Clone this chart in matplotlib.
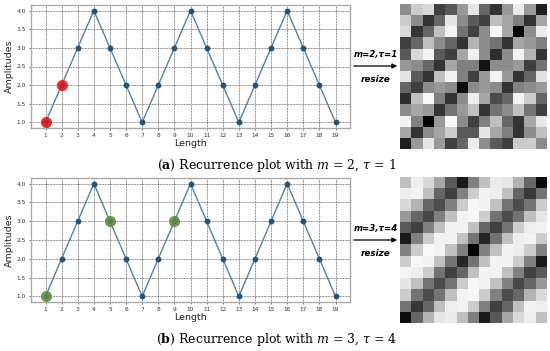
import numpy as np
import matplotlib
matplotlib.use("Agg")
import matplotlib.pyplot as plt

plt.rcParams["mathtext.fontset"] = "dejavuserif"

# ---- data ----
length = list(range(1, 20))
amplitudes = [1, 2, 3, 4, 3, 2, 1, 2, 3, 4, 3, 2, 1, 2, 3, 4, 3, 2, 1]
highlight_a = [1, 2]          # m=2, tau=1
highlight_b = [1, 5, 9]       # m=3, tau=4

rp_a = [
    [0.55, 0.80, 0.85, 0.25, 0.35, 0.60, 0.90, 0.40, 0.20, 0.60, 0.92, 0.60, 0.12],
    [0.80, 0.55, 0.20, 0.40, 0.90, 0.55, 0.35, 0.25, 0.75, 0.65, 0.50, 0.20, 0.65],
    [0.85, 0.20, 0.40, 0.75, 0.95, 0.45, 0.25, 0.55, 0.97, 0.65, 0.02, 0.55, 0.92],
    [0.25, 0.40, 0.75, 0.55, 0.40, 0.20, 0.70, 0.55, 0.45, 0.20, 0.65, 0.60, 0.50],
    [0.35, 0.85, 0.95, 0.35, 0.25, 0.65, 0.93, 0.55, 0.18, 0.55, 0.95, 0.70, 0.20],
    [0.60, 0.55, 0.40, 0.20, 0.65, 0.50, 0.50, 0.08, 0.55, 0.55, 0.60, 0.25, 0.45],
    [0.90, 0.35, 0.20, 0.75, 0.95, 0.50, 0.25, 0.60, 0.95, 0.60, 0.20, 0.40, 0.88],
    [0.40, 0.25, 0.55, 0.60, 0.55, 0.05, 0.55, 0.60, 0.55, 0.20, 0.50, 0.55, 0.60],
    [0.18, 0.75, 0.97, 0.50, 0.20, 0.55, 0.93, 0.65, 0.30, 0.40, 0.95, 0.80, 0.40],
    [0.55, 0.65, 0.60, 0.20, 0.45, 0.60, 0.75, 0.20, 0.45, 0.55, 0.75, 0.45, 0.25],
    [0.95, 0.50, 0.02, 0.60, 0.97, 0.55, 0.25, 0.50, 0.75, 0.40, 0.20, 0.65, 0.90],
    [0.65, 0.20, 0.55, 0.65, 0.80, 0.35, 0.35, 0.90, 0.65, 0.50, 0.20, 0.55, 0.75],
    [0.12, 0.60, 0.90, 0.60, 0.25, 0.40, 0.92, 0.55, 0.35, 0.25, 0.80, 0.80, 0.55],
]

rp_b = [
    [0.75, 0.93, 0.85, 0.65, 0.35, 0.10, 0.50, 0.75, 0.92, 0.90, 0.70, 0.40, 0.05],
    [0.93, 0.95, 0.75, 0.40, 0.25, 0.50, 0.80, 0.95, 0.93, 0.75, 0.40, 0.22, 0.45],
    [0.85, 0.70, 0.40, 0.30, 0.50, 0.80, 0.97, 0.95, 0.75, 0.45, 0.30, 0.45, 0.80],
    [0.60, 0.40, 0.28, 0.50, 0.75, 0.95, 0.97, 0.80, 0.45, 0.30, 0.45, 0.75, 0.90],
    [0.35, 0.25, 0.50, 0.75, 0.95, 0.95, 0.75, 0.40, 0.25, 0.45, 0.80, 0.93, 0.95],
    [0.10, 0.50, 0.80, 0.95, 0.95, 0.75, 0.45, 0.15, 0.45, 0.75, 0.93, 0.95, 0.80],
    [0.50, 0.80, 0.97, 0.95, 0.75, 0.50, 0.02, 0.50, 0.75, 0.95, 0.93, 0.80, 0.50],
    [0.80, 0.97, 0.95, 0.75, 0.45, 0.15, 0.45, 0.75, 0.95, 0.95, 0.80, 0.50, 0.10],
    [0.95, 0.93, 0.80, 0.45, 0.25, 0.40, 0.75, 0.95, 0.95, 0.75, 0.50, 0.25, 0.35],
    [0.90, 0.75, 0.45, 0.30, 0.45, 0.80, 0.97, 0.95, 0.75, 0.50, 0.28, 0.40, 0.60],
    [0.80, 0.45, 0.30, 0.45, 0.75, 0.95, 0.97, 0.80, 0.50, 0.30, 0.40, 0.70, 0.85],
    [0.45, 0.22, 0.40, 0.75, 0.93, 0.95, 0.80, 0.50, 0.25, 0.40, 0.75, 0.95, 0.93],
    [0.05, 0.40, 0.70, 0.90, 0.92, 0.75, 0.50, 0.10, 0.35, 0.65, 0.85, 0.93, 0.75],
]

captions = [("a", "2", "1"), ("b", "3", "4")]

fig = plt.figure(figsize=(5.5, 3.51), dpi=100)
W, H = 550, 351

def fx(px):
    return px / W

def fy(py):
    return 1 - py / H

line_color = "#4f82aa"
marker_color = "#1e5683"

def line_panel(top, bottom, hl, hl_color):
    ax = fig.add_axes([fx(31), fy(bottom), fx(350) - fx(31), fy(top) - fy(bottom)])
    ax.plot(length, amplitudes, color=line_color, lw=1.0, marker="o", ms=3.2,
            mfc=marker_color, mec=marker_color, zorder=3)
    hx = hl
    hy = [amplitudes[length.index(v)] for v in hl]
    ax.plot(hx, hy, ls="none", marker="o", ms=7, mfc=hl_color, mec=hl_color,
            alpha=0.85, zorder=4)
    ax.set_xticks(length)
    ax.set_yticks([1.0, 1.5, 2.0, 2.5, 3.0, 3.5, 4.0])
    ax.set_yticklabels(["1.0", "1.5", "2.0", "2.5", "3.0", "3.5", "4.0"])
    ax.tick_params(labelsize=4.2, length=1.5, width=0.5, colors="#333333", pad=2)
    ax.grid(True, ls=(0, (1.0, 1.0)), color="#444444", lw=0.55)
    for s in ax.spines.values():
        s.set_color("#aaaaaa")
        s.set_linewidth(1.0)
    ax.set_xlabel("Length", fontsize=6.8, labelpad=0.5, color="#222222")
    ax.set_ylabel("Amplitudes", fontsize=6.8, labelpad=2, color="#222222")
    return ax

line_panel(5, 128, highlight_a, "#e8141c")
line_panel(178, 302, highlight_b, "#5b8f3a")

def rp_panel(top, bottom, mat):
    ax = fig.add_axes([fx(400), fy(bottom), fx(547) - fx(400), fy(top) - fy(bottom)])
    ax.imshow(np.array(mat), cmap="gray", vmin=0, vmax=1, interpolation="nearest",
              aspect="auto")
    ax.axis("off")

rp_panel(4, 149, rp_a)
rp_panel(177, 323, rp_b)

# arrows and labels
for (lab, m, tau), yarr in zip(captions, [66, 240]):
    fig.patches.append(matplotlib.patches.FancyArrowPatch(
        (fx(351), fy(yarr)), (fx(400), fy(yarr)), transform=fig.transFigure,
        arrowstyle="-|>", mutation_scale=7, lw=0.9, color="black"))
    fig.text(fx(376), fy(yarr - 12), f"m={m},\u03c4={tau}", fontsize=6.2,
             fontweight="bold", fontstyle="italic", ha="center", va="center",
             family="DejaVu Sans")
    fig.text(fx(376), fy(yarr + 14), "resize", fontsize=6.4,
             fontweight="bold", fontstyle="italic", ha="center", va="center",
             family="DejaVu Sans")

# captions
for (lab, m, tau), yc in zip(captions, [165, 339]):
    fig.text(fx(277), fy(yc),
             rf"($\mathbf{{{lab}}}$) Recurrence plot with $m$ = {m}, $\tau$ = {tau}",
             fontsize=9.0, ha="center", va="center", family="DejaVu Serif")

fig.savefig("out.png", dpi=100)
